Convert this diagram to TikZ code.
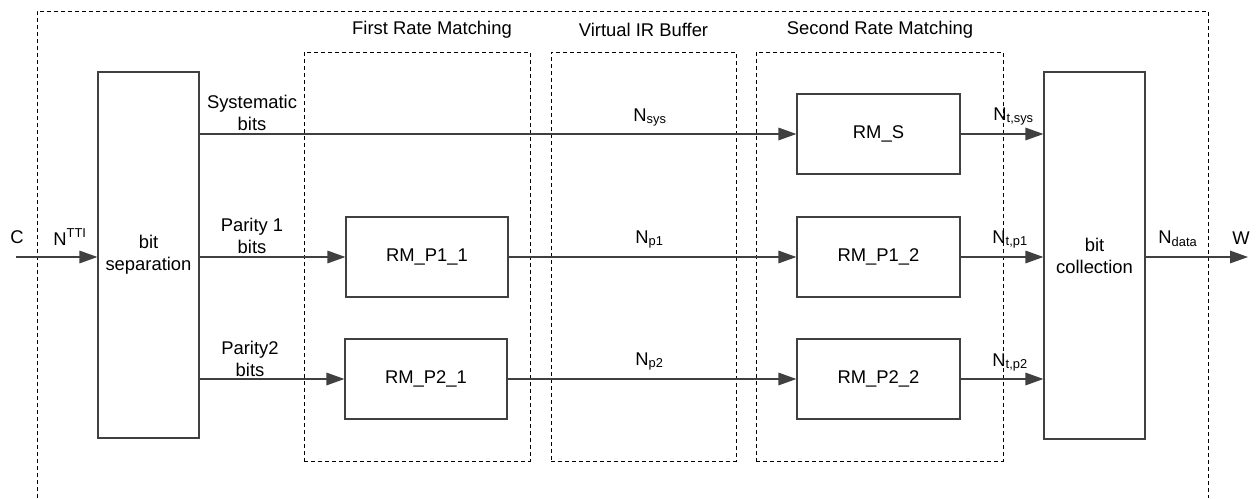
\documentclass[tikz,border=0pt]{standalone}
\usepackage{fontspec}
\setmainfont{Liberation Sans}
\usepackage{tikz}
\usetikzlibrary{arrows.meta,positioning,calc}
\definecolor{linegray}{RGB}{64,64,64}

\begin{document}
\begin{tikzpicture}[x=0.5pt,y=-0.5pt,
  font=\fontsize{9.2}{11}\selectfont,
  block/.style={draw=linegray, line width=0.6pt, rectangle, inner sep=0pt, align=center},
  group/.style={draw=black, dash pattern=on 2pt off 1.5pt, line width=0.5pt},
  flow/.style={-{Triangle[length=9pt,width=6.3pt]}, draw=linegray, line width=0.6pt},
  lbl/.style={anchor=base west, inner sep=0pt}]

\useasboundingbox (0,0) rectangle (1258,498);

% outer frame, open at the bottom
\draw[group] (37,498) |- (1208,11) -- (1208,498);

% stage frames
\node[group, minimum width=113pt, minimum height=204.5pt] (first) at (417,256.5) {};
\node[group, minimum width=92.5pt, minimum height=204.5pt] (virt) at (643.5,256.5) {};
\node[group, minimum width=123.5pt, minimum height=204.5pt] (second) at (879.5,256.5) {};
\node (firsttitle) at (432,30) {First Rate Matching};
\node (virttitle) at (643.5,30) {Virtual IR Buffer};
\node (secondtitle) at (880,30) {Second Rate Matching};

% blocks
\node[block, minimum width=50.5pt, minimum height=183pt] (sep) at (148.5,255) {bit\\separation};
\node[block, minimum width=50.5pt, minimum height=183.5pt] (coll) at (1094.5,255.5) {bit\\collection};
\node[block, minimum width=81.5pt, minimum height=40pt] (rms) at (878.5,134) {RM\_S};
\node[block, minimum width=81pt, minimum height=40pt] (rmpa1) at (427,257) {RM\_P1\_1};
\node[block, minimum width=81pt, minimum height=40pt] (rmpb1) at (426,379) {RM\_P2\_1};
\node[block, minimum width=81.5pt, minimum height=40pt] (rmpa2) at (878.5,257) {RM\_P1\_2};
\node[block, minimum width=81.5pt, minimum height=40pt] (rmpb2) at (878.5,379) {RM\_P2\_2};

% connections
\coordinate (cin) at (16,257);
\coordinate (wout) at (1248,257);
\draw[flow] (cin) -- (sep.west |- cin);
\draw[flow] (sep.east |- rms) -- (rms);
\draw[flow] (sep.east |- rmpa1) -- (rmpa1);
\draw[flow] (sep.east |- rmpb1) -- (rmpb1);
\draw[flow] (rmpa1) -- (rmpa2);
\draw[flow] (rmpb1) -- (rmpb2);
\draw[flow] (rms) -- (rms -| coll.west);
\draw[flow] (rmpa2) -- (rmpa2 -| coll.west);
\draw[flow] (rmpb2) -- (rmpb2 -| coll.west);
\draw[flow] (coll.east |- wout) -- (wout);

% labels
\node[lbl] (clbl) at (10,243) {C};
\node[lbl] (ntti) at (53,245) {N\textsuperscript{TTI}};
\node[align=center] (sysbits) at (252,113) {Systematic\\bits};
\node[align=center] (p1bits) at (252,236) {Parity 1\\bits};
\node[align=center] (p2bits) at (250,359) {Parity2\\bits};
\node[lbl] (nsys) at (633,121) {N\textsubscript{sys}};
\node[lbl] (np1) at (635,243) {N\textsubscript{p1}};
\node[lbl] (np2) at (635,365) {N\textsubscript{p2}};
\node[lbl] (ntsys) at (993,120) {N\textsubscript{t,sys}};
\node[lbl] (ntp1) at (992,243) {N\textsubscript{t,p1}};
\node[lbl] (ntp2) at (992,366) {N\textsubscript{t,p2}};
\node[lbl] (ndata) at (1158,243) {N\textsubscript{data}};
\node[lbl] (wlbl) at (1232,244) {W};
\end{tikzpicture}
\end{document}
